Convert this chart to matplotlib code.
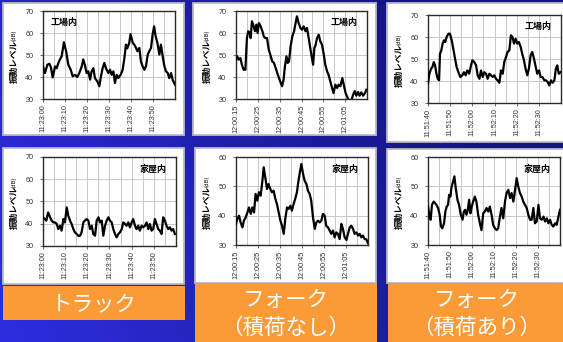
import numpy as np
import matplotlib
matplotlib.use("Agg")
import matplotlib.pyplot as plt
from matplotlib.patches import Rectangle

W, H = 563, 342

# ---- measured vibration levels: time offset (s) from first tick, level (dB) ----
t_truck_factory = [0, 0.9, 2, 2.9, 3.6, 4.4, 5.5, 6.2, 7, 7.7, 8.5, 9.5, 10.5, 11.5, 12.6, 13.5,
                   14.5, 15.6, 16.5, 17.6, 18.3, 19, 19.8, 20.6, 21.4, 22.1, 22.9, 23.6, 24.7, 25.6,
                   26.2, 27.1, 27.9, 28.6, 29.7, 30.5, 31.2, 32, 32.7, 33.5, 34.2, 35.3, 36.2, 37,
                   37.7, 38.3, 39.2, 39.8, 40.8, 41.5, 42.3, 42.9, 43.8, 44.5, 45.3, 46.1, 46.8,
                   47.6, 48.3, 49.1, 49.8, 50.5, 51.2, 52, 52.9, 53.6, 54.4, 55.2, 55.9, 56.7,
                   57.4, 58.2, 58.9, 60]
v_truck_factory = [44.8, 41.8, 45.6, 46, 44.4, 39.8, 44.8, 44, 46.4, 48, 49.4, 55.8, 51.7, 45.6,
                   43.3, 40.3, 41, 40, 41.8, 44.8, 48, 45.6, 41.8, 42.6, 38.8, 42.6, 44, 39.5, 38,
                   35.8, 39.5, 44, 46.4, 44, 41.8, 43.3, 41, 42.6, 37.3, 41, 39.5, 41, 43.3, 48.6,
                   54.7, 53, 55.5, 59.5, 55.5, 54.7, 53.2, 51.7, 53.2, 47.1, 44.8, 43.3, 44.8,
                   50.2, 51.7, 53.2, 59.2, 63, 58.5, 55.5, 50.2, 54.7, 49.4, 44.8, 42.6, 41.8,
                   39.5, 41.8, 38.8, 36.5]

t_fork_empty_factory = [0, 0.6, 1.2, 2, 2.7, 3.5, 4.3, 5, 5.6, 6.3, 6.7, 7.3, 8.1, 8.7, 9.3, 9.9,
                        10.5, 11.3, 12.1, 12.7, 13.4, 14.2, 15, 15.7, 16.6, 17.4, 18.2, 18.9,
                        19.7, 20.5, 21.1, 21.8, 22.4, 23.1, 23.7, 24.3, 25, 25.8, 26.6, 27.3,
                        27.9, 28.7, 29.5, 30.2, 31, 31.8, 32.5, 33.3, 34, 34.8, 35.3, 35.9, 36.5,
                        37.1, 37.9, 38.6, 39.4, 40.2, 40.9, 41.7, 42.4, 43.2, 44, 44.7, 45.5,
                        46.3, 47, 47.8, 48.7, 49.5, 50.2, 51, 51.6, 52.4, 53.6, 54.4, 55.1, 55.9,
                        56.6, 57.4, 58.2, 59.1, 59.7]
v_fork_empty_factory = [47.9, 49.4, 47.9, 48.6, 45.6, 43.3, 43.3, 57.7, 60.8, 60, 57.7, 65.3, 63,
                        60.8, 63.8, 60, 64.5, 63, 60.8, 58.5, 57.7, 57.7, 52.4, 50.2, 47.1, 46.4,
                        44, 41.8, 39.5, 37.3, 35.8, 38.8, 44.8, 49.4, 46.4, 47.1, 53.9, 58.5,
                        60.8, 64.5, 67.6, 64.5, 62.3, 61.5, 63, 60.8, 62.3, 57.7, 53.2, 48.6,
                        45.6, 53.2, 54.7, 57.7, 59.2, 56.2, 54.7, 50.2, 45.6, 42.6, 41, 38, 35,
                        32.7, 36.5, 35, 36.5, 35.8, 39.5, 35.8, 32.7, 30.8, 29.2, 28, 31.8, 33.6,
                        31.5, 33.2, 31.5, 33, 31.5, 32.7, 34.2]

t_fork_loaded_factory = [0, 0.6, 1.4, 2, 2.6, 3.2, 3.8, 4.4, 5, 5.4, 6, 6.6, 7.2, 7.8, 8.4, 9.2,
                         9.9, 10.7, 11.4, 12.2, 12.9, 13.7, 14.6, 15.5, 16.2, 17, 17.7, 18.6,
                         19.4, 20, 20.9, 21.7, 22.4, 23.2, 23.9, 24.7, 25.4, 26.2, 26.9, 27.7,
                         28.4, 29.2, 29.9, 30.7, 31.4, 32.2, 32.9, 33.7, 34.4, 35.2, 35.9, 36.7,
                         37.4, 38.1, 38.8, 39.5, 40.3, 41, 41.8, 42.5, 43.3, 44, 44.8, 45.5, 46.3,
                         47, 47.8, 48.6, 49.3, 50.1, 50.8, 51.6, 52.5, 53.2, 54, 54.7, 55.5, 56.2,
                         57, 57.7, 58.3, 59, 59.8]
v_fork_loaded_factory = [38.8, 43.3, 45.6, 46.4, 48.6, 47.1, 43.3, 41, 40.3, 52.4, 53.9, 57, 58.5,
                         57.7, 60, 61.5, 61.5, 58.5, 54.7, 50.2, 46.4, 44, 41.8, 42.6, 44, 42.6,
                         44.8, 43.3, 47.1, 49.4, 48.6, 47.1, 42.6, 41, 44.8, 41.8, 44, 43.3, 41,
                         43.3, 42.6, 41.8, 42.6, 41, 40.3, 39.2, 44.8, 43.3, 48.6, 50.9, 53.2,
                         53.9, 60.8, 60, 57, 59.2, 57, 57.7, 55.5, 52.4, 49.4, 45.6, 42.6, 45.6,
                         51.7, 53.2, 50.2, 46.4, 43.3, 44.8, 41.8, 41.8, 40.3, 40.3, 39.5, 38,
                         40.3, 39.2, 40.3, 45.6, 47.1, 43.3, 44]

t_truck_house = [0, 0.8, 1.5, 2.3, 3.2, 3.9, 4.7, 5.4, 6.2, 6.9, 7.7, 8.4, 9.2, 9.9, 10.7, 11.4,
                 12.2, 12.9, 13.7, 14.4, 15.2, 15.9, 16.7, 17.4, 18.2, 18.9, 19.7, 20.5, 21.2, 22,
                 22.7, 23.5, 24.2, 25, 25.7, 26.5, 27.2, 28, 28.7, 29.5, 30.2, 31, 31.7, 32.5,
                 33.2, 34, 34.7, 35.5, 36.2, 37, 37.7, 38.5, 39.2, 40, 40.7, 41.5, 42.2, 43,
                 43.7, 44.5, 45.2, 46, 46.7, 47.5, 48.2, 49, 49.7, 50.5, 51.2, 52, 52.7, 53.5,
                 54.2, 55, 55.7, 56.5, 57.2, 58, 58.7, 59.5]
v_truck_house = [42.9, 42.1, 41.4, 45.1, 42.9, 41.4, 40.6, 40.6, 39.9, 37.6, 39.1, 36.9, 42.1,
                 40.6, 47.4, 43.6, 41.4, 39.9, 37.6, 36.1, 35.4, 34.6, 34.6, 36.1, 40.6, 41.4,
                 42.1, 41.4, 37.6, 39.1, 35.4, 34.6, 41.4, 42.9, 40.6, 41.4, 34.6, 39.1, 41.4,
                 42.9, 41.4, 40.6, 37.6, 35.4, 33.9, 35.4, 36.1, 37.6, 40.6, 39.9, 39.1, 40.6,
                 38.4, 40.6, 42.1, 39.1, 37.6, 39.1, 36.9, 39.1, 38.4, 39.1, 40.6, 37.6, 39.9,
                 36.9, 37.6, 42.1, 39.9, 37.6, 36.9, 35.4, 42.9, 41.4, 39.1, 37.6, 38.4, 36.9,
                 37.6, 35.4]

t_fork_empty_house = [0, 0.6, 1.4, 2.1, 2.9, 3.6, 4.4, 5.2, 5.9, 6.7, 7.4, 8.2, 8.9, 9.7, 10.4,
                      11.2, 12, 12.6, 13.3, 14.1, 14.8, 15.6, 16.3, 17.1, 17.9, 18.6, 19.4, 20.2,
                      20.9, 21.7, 22.4, 23.2, 23.9, 24.7, 25.4, 26.2, 26.9, 27.7, 28.3, 28.9,
                      29.7, 30.5, 31.2, 32, 32.7, 33.5, 34.2, 35, 35.8, 36.5, 37.3, 38, 38.8,
                      39.5, 40.3, 41, 41.8, 42.6, 43.3, 44.1, 44.8, 45.6, 46.3, 47.1, 47.9,
                      48.6, 49.4, 50.2, 50.9, 51.7, 52.4, 53.2, 53.9, 54.7, 55.5, 56.2, 57,
                      57.7, 58.5, 59.2, 60]
v_fork_empty_house = [37.2, 38.9, 40, 37.7, 36, 38.3, 39.4, 41.1, 42.8, 40.6, 42.8, 41.1, 47.4,
                      45.1, 48, 46.8, 51.9, 56.5, 53.1, 49.1, 50.8, 49.1, 48, 48.5, 45.7, 44,
                      41.1, 38.3, 36.6, 33.8, 38.9, 42.8, 42.3, 43.4, 41.7, 44, 45.7, 48, 51.4,
                      54.2, 57.6, 54.2, 51.9, 50.8, 48.5, 47.4, 45.1, 39.4, 35.5, 37.7, 38.3,
                      37.7, 38.3, 40.6, 40, 36.6, 36, 34.9, 33.8, 34.9, 32.6, 34.3, 33.8, 32,
                      37.2, 35.5, 32.6, 31.7, 33.8, 36, 36.6, 35.5, 33.8, 34.3, 33.2, 33.8,
                      32.6, 33.2, 32, 32, 30.6]

t_fork_loaded_house = [0, 0.8, 1.2, 1.8, 2.6, 3.2, 3.8, 4.6, 5.3, 5.9, 6.5, 7.3, 7.9, 8.5, 9.1,
                       9.6, 10.2, 10.6, 11.2, 12, 12.6, 13.4, 14.1, 14.9, 15.7, 16.3, 16.9,
                       17.5, 18.1, 18.7, 19.3, 19.9, 20.5, 21.3, 22, 22.8, 23.6, 24.3, 25.1,
                       25.8, 26.6, 27.4, 28.1, 28.9, 29.6, 30.4, 31.2, 31.9, 32.7, 33.4, 34.2,
                       35, 35.7, 36.5, 37.3, 38, 38.8, 39.5, 40.3, 41, 41.8, 42.6, 43.3, 44.1,
                       44.9, 45.6, 46.4, 47.1, 47.9, 48.6, 49.4, 50.2, 50.9, 51.7, 52.5, 53.2,
                       54, 54.7, 55.5, 56.2, 57, 57.8, 58.5, 59.3, 60]
v_fork_loaded_house = [43.1, 39.1, 38.6, 43.7, 44.8, 44.3, 43.7, 42.6, 40.3, 36.3, 35.7, 37.4,
                       41.4, 43.1, 43.7, 47.1, 46.5, 49.4, 51.1, 53.4, 49.4, 45.4, 43.7, 40.3,
                       38.6, 41.4, 42, 40.3, 42, 45.4, 40.8, 43.1, 44.8, 46.5, 44.8, 40.3, 37.4,
                       35.1, 40.8, 41.4, 42.6, 41.4, 43.1, 40.3, 36.9, 35.7, 35.1, 35.7, 39.7,
                       42.6, 39.1, 44.8, 47.7, 48.8, 46, 47.7, 44.8, 48.3, 52.8, 50, 47.7, 46.5,
                       44.8, 43.7, 42.6, 40.3, 38.6, 38.6, 42.6, 37.4, 38, 43.7, 39.1, 38.6,
                       39.7, 38, 39.1, 37.4, 38.6, 36.9, 36.3, 37.4, 36.9, 39.7, 42]

# ---- axis labelling ----
xt_truck = ["11:23:00", "11:23:10", "11:23:20", "11:23:30", "11:23:40", "11:23:50"]
xt_fork_empty = ["12:00:15", "12:00:25", "12:00:35", "12:00:45", "12:00:55", "12:01:05"]
xt_fork_loaded = ["11:51:40", "11:51:50", "11:52:00", "11:52:10", "11:52:20", "11:52:30"]
yt_70 = [30, 40, 50, 60, 70]
yt_60 = [30, 40, 50, 60]
location_labels = ["工場内", "家屋内"]
vehicle_labels = [["トラック"], ["フォーク", "（積荷なし）"], ["フォーク", "（積荷あり）"]]
ylabel_main = "振動レベル"
ylabel_unit = "(dB)"

CJK = ["Noto Sans CJK JP", "DejaVu Sans"]
LAT = ["Liberation Sans", "DejaVu Sans"]

fig = plt.figure(figsize=(W / 100, H / 100), dpi=100)

# background layer in pixel coordinates
bg = fig.add_axes([0, 0, 1, 1], zorder=0)
bg.set_xlim(0, W)
bg.set_ylim(H, 0)
bg.axis("off")
gx = np.linspace(0, 1, 300)[None, :]
gy = np.linspace(0, 1, 200)[:, None]      # 0 at top
s = np.clip(0.95 * gx + 0.30 * (1 - gy), 0, 1)
bright = np.array([0.18, 0.18, 0.88])
dark = np.array([0.08, 0.08, 0.50])
grad = bright[None, None, :] * (1 - s[..., None]) + dark[None, None, :] * s[..., None]
bg.imshow(grad, extent=(0, W, H, 0), aspect="auto", interpolation="bilinear", zorder=0)


def card(x0, y0, x1, y1):
    bg.add_patch(Rectangle((x0, y0), x1 - x0, y1 - y0, facecolor="white",
                           edgecolor="#b9b9c4", lw=1.3, zorder=1))


def orange(x0, y0, x1, y1):
    bg.add_patch(Rectangle((x0, y0), x1 - x0, y1 - y0, facecolor="#fb9b37",
                           edgecolor="none", zorder=1))


cards = [(3, 3, 184, 135), (193, 3, 376, 135), (387, 3, 566, 142),
         (3, 148, 184, 284), (195, 148, 376, 283), (387, 149, 566, 283)]
for c in cards:
    card(*c)

oranges = [(3, 286, 185, 320), (195, 284, 377, 345), (388, 284, 566, 345)]
for o in oranges:
    orange(*o)

# vehicle captions
bg.text(94, 304, vehicle_labels[0][0], color="white", fontsize=15.5, family=CJK,
        ha="center", va="center", zorder=3)
for (x0, y0, x1, y1), lines in zip(oranges[1:], vehicle_labels[1:]):
    cx = (x0 + x1) / 2
    bg.text(cx, 300, lines[0], color="white", fontsize=15.5, family=CJK,
            ha="center", va="center", zorder=3)
    bg.text(cx, 328, lines[1], color="white", fontsize=15.5, family=CJK,
            ha="center", va="center", zorder=3)

# plot areas (left, top, right, bottom in pixels)
boxes = [(43, 11, 175, 99), (236, 11, 367, 99), (428, 15, 561, 103),
         (43, 157, 176, 246), (236, 157, 368, 245), (428, 157, 560, 245)]

panels = [
    (t_truck_factory, v_truck_factory, xt_truck, yt_70, location_labels[0], "left"),
    (t_fork_empty_factory, v_fork_empty_factory, xt_fork_empty, yt_70, location_labels[0], "right"),
    (t_fork_loaded_factory, v_fork_loaded_factory, xt_fork_loaded, yt_70, location_labels[0], "right"),
    (t_truck_house, v_truck_house, xt_truck, yt_70, location_labels[1], "right"),
    (t_fork_empty_house, v_fork_empty_house, xt_fork_empty, yt_60, location_labels[1], "right"),
    (t_fork_loaded_house, v_fork_loaded_house, xt_fork_loaded, yt_60, location_labels[1], "right"),
]

for (l, t, r, b), (tt, vv, xlabels, yticks, loc, side) in zip(boxes, panels):
    ax = fig.add_axes([l / W, 1 - b / H, (r - l) / W, (b - t) / H], zorder=2)
    ax.set_facecolor("white")
    ax.plot(tt, vv, color="black", lw=1.6, solid_joinstyle="round", zorder=3)
    ax.set_xlim(0, 60)
    ax.set_ylim(yticks[0], yticks[-1])
    ax.set_xticks(np.arange(0, 60, 10))
    ax.set_xticks(np.arange(0, 61, 5), minor=True)
    ax.set_xticklabels(xlabels, rotation=90, fontsize=5.2, family=LAT, color="#303030")
    ax.set_yticks(yticks)
    ax.set_yticklabels([str(v) for v in yticks], fontsize=5.2, family=LAT, color="#303030")
    ax.grid(True, which="both", axis="x", color="#c8c8c8", lw=0.7)
    ax.grid(True, which="major", axis="y", color="#c8c8c8", lw=0.7)
    ax.set_axisbelow(True)
    ax.tick_params(axis="both", which="major", length=2, width=0.6, color="#555555", pad=2)
    ax.tick_params(axis="y", pad=5)
    ax.tick_params(axis="both", which="minor", length=0)
    for sp in ax.spines.values():
        sp.set_color("#2a2a2a")
        sp.set_linewidth(1.0)
    if side == "left":
        ax.text(0.06, 0.865, loc, transform=ax.transAxes, fontsize=6.5, fontweight="bold",
                family=CJK, ha="left", va="center", zorder=4)
    else:
        ax.text(0.93, 0.865, loc, transform=ax.transAxes, fontsize=6.5, fontweight="bold",
                family=CJK, ha="right", va="center", zorder=4)
    # y-axis title: bold name followed by a smaller unit
    ax.annotate(ylabel_main, xy=(0, 0.5), xycoords="axes fraction", xytext=(-21, 11),
                textcoords="offset points", rotation=90, ha="center", va="top",
                fontsize=6.2, fontweight="bold", family=CJK)
    ax.annotate(ylabel_unit, xy=(0, 0.5), xycoords="axes fraction", xytext=(-21, 10),
                textcoords="offset points", rotation=90, ha="center", va="bottom",
                fontsize=4.2, family=CJK)

fig.savefig("out.png", dpi=100)
